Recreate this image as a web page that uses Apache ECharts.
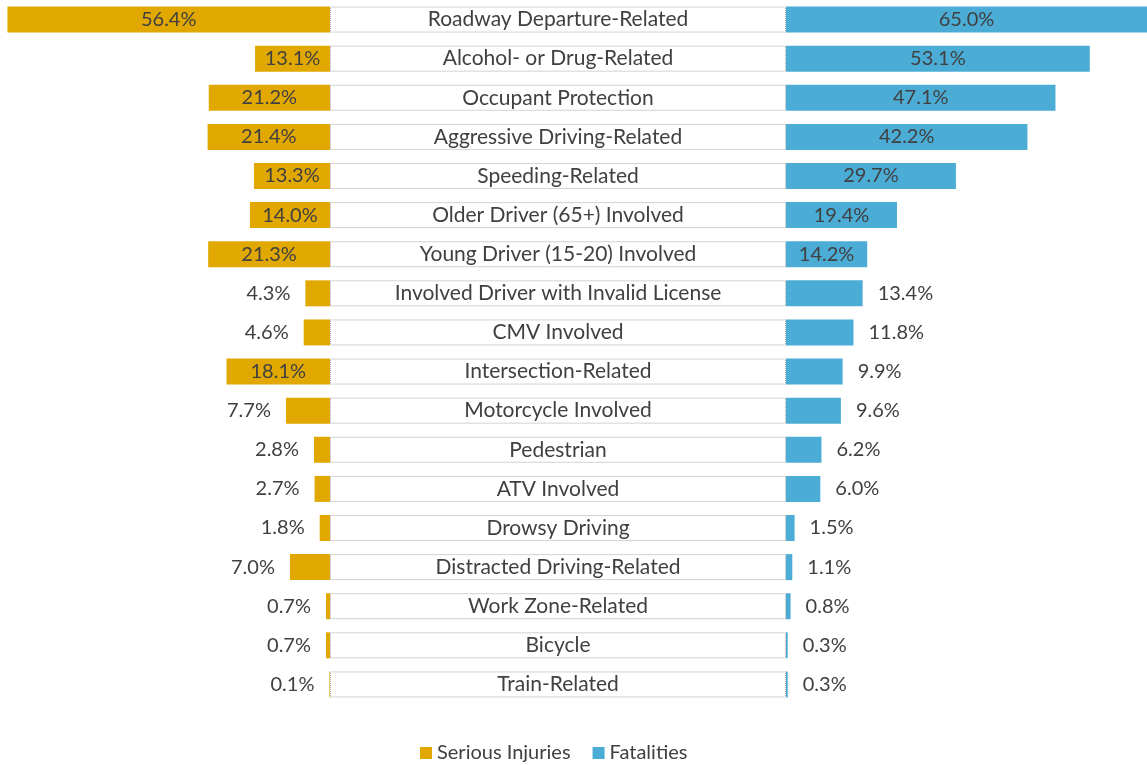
<!DOCTYPE html>
<html>
<head>
<meta charset="utf-8">
<script src="https://cdn.jsdelivr.net/npm/echarts@6/dist/echarts.min.js"></script>
<style>
  html, body { margin: 0; padding: 0; background: #fff; }
  #chart { width: 1147px; height: 765px; }
</style>
</head>
<body>
<div id="chart"></div>
<script>
const categories = [
  "Roadway Departure-Related", "Alcohol- or Drug-Related", "Occupant Protection",
  "Aggressive Driving-Related", "Speeding-Related", "Older Driver (65+) Involved",
  "Young Driver (15-20) Involved", "Involved Driver with Invalid License", "CMV Involved",
  "Intersection-Related", "Motorcycle Involved", "Pedestrian", "ATV Involved",
  "Drowsy Driving", "Distracted Driving-Related", "Work Zone-Related", "Bicycle", "Train-Related"
];
const seriousInjuries = [56.4, 13.1, 21.2, 21.4, 13.3, 14.0, 21.3, 4.3, 4.6, 18.1, 7.7, 2.8, 2.7, 1.8, 7.0, 0.7, 0.7, 0.1];
const fatalities = [65.0, 53.1, 47.1, 42.2, 29.7, 19.4, 14.2, 13.4, 11.8, 9.9, 9.6, 6.2, 6.0, 1.5, 1.1, 0.8, 0.3, 0.3];
// which labels sit inside the bar
const injuriesInside = [1, 1, 1, 1, 1, 1, 1, 0, 0, 1, 0, 0, 0, 0, 0, 0, 0, 0];
const fatalitiesInside = [1, 1, 1, 1, 1, 1, 1, 0, 0, 0, 0, 0, 0, 0, 0, 0, 0, 0];

const gold = "#E0A800";
const blue = "#4BACD6";
const textColor = "#404040";
const font = "Lato";

const chart = echarts.init(document.getElementById("chart"));

function sideData(values, inside, outPos) {
  return values.map((v, i) => ({
    value: v,
    label: inside[i]
      ? { position: "inside" }
      : { position: outPos, distance: 15 }
  }));
}

const catAxis = (idx) => ({
  type: "category", gridIndex: idx, data: categories, inverse: true,
  axisLine: { show: false }, axisTick: { show: false }, axisLabel: { show: false }
});

const option = {
  animation: false,
  textStyle: { fontFamily: font },
  legend: {
    top: 738,
    left: 415,
    itemWidth: 12,
    itemHeight: 12,
    itemGap: 22,
    icon: "rect",
    textStyle: { fontSize: 20, color: textColor, fontFamily: font },
    data: ["Serious Injuries", "Fatalities"]
  },
  grid: [
    { left: 0, width: 330, top: 0, height: 704 },
    { left: 330, width: 456, top: 0, height: 704 },
    { left: 786, width: 361, top: 0, height: 704 }
  ],
  xAxis: [
    { type: "value", gridIndex: 0, inverse: true, min: 0, max: 57.7, show: false },
    { type: "value", gridIndex: 1, min: 0, max: 1, show: false },
    { type: "value", gridIndex: 2, min: 0, max: 63.1, show: false }
  ],
  yAxis: [catAxis(0), catAxis(1), catAxis(2)],
  series: [
    {
      name: "Serious Injuries", type: "bar", xAxisIndex: 0, yAxisIndex: 0,
      barWidth: 26,
      itemStyle: { color: gold },
      label: {
        show: true, fontSize: 20, color: textColor, fontFamily: font,
        formatter: (p) => p.value.toFixed(1) + "%"
      },
      data: sideData(seriousInjuries, injuriesInside, "left")
    },
    {
      name: "box", type: "bar", xAxisIndex: 1, yAxisIndex: 1,
      barWidth: 26,
      silent: true,
      itemStyle: { color: "#ffffff", borderColor: "#a6a6a6", borderWidth: 1, borderType: "dotted" },
      label: {
        show: true, position: "inside", fontSize: 21, color: textColor, fontFamily: font,
        formatter: (p) => p.name
      },
      data: categories.map(() => 1)
    },
    {
      name: "Fatalities", type: "bar", xAxisIndex: 2, yAxisIndex: 2,
      barWidth: 26,
      clip: true,
      itemStyle: { color: blue },
      label: {
        show: true, fontSize: 20, color: textColor, fontFamily: font,
        formatter: (p) => p.value.toFixed(1) + "%"
      },
      data: sideData(fatalities, fatalitiesInside, "right")
    }
  ]
};

chart.setOption(option);
</script>
</body>
</html>
